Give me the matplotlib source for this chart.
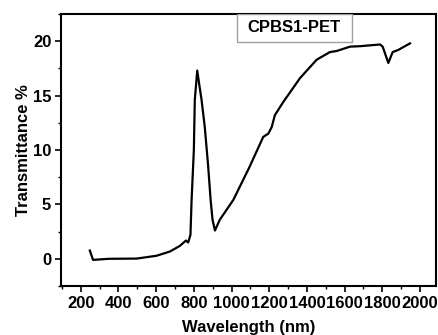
import matplotlib
matplotlib.use("Agg")
import matplotlib.pyplot as plt
from matplotlib.patches import Rectangle
from matplotlib.ticker import MultipleLocator

wavelength = [248, 265, 350, 496, 602, 673, 726, 758, 770, 782, 788, 800, 805, 818,
              828, 841, 858, 876, 889, 899, 912, 938, 1009, 1097, 1168, 1195, 1213,
              1230, 1274, 1363, 1452, 1522, 1558, 1629, 1682, 1788, 1802, 1832, 1855,
              1885, 1947]
transmittance = [0.76, -0.1, 0.0, 0.02, 0.28, 0.67, 1.19, 1.68, 1.5, 2.2, 5.4, 10.0,
                 14.6, 17.3, 16.1, 14.6, 12.1, 8.5, 5.4, 3.6, 2.6, 3.6, 5.4, 8.5, 11.2,
                 11.5, 12.1, 13.2, 14.4, 16.6, 18.3, 19.0, 19.1, 19.5, 19.54, 19.7, 19.5,
                 18.0, 19.0, 19.2, 19.8]
series_label = "CPBS1-PET"
x_ticks = [200, 400, 600, 800, 1000, 1200, 1400, 1600, 1800, 2000]
y_ticks = [0, 5, 10, 15, 20]

plt.rcParams['font.family'] = ['Liberation Sans', 'DejaVu Sans']
plt.rcParams['font.weight'] = 'bold'

fig = plt.figure(figsize=(4.39, 3.35), dpi=100)
ax = fig.add_axes([61/439, (335-286)/335, 375/439, 272/335])

ax.plot(wavelength, transmittance, color='black', lw=1.6)

ax.set_xlim(95, 2085)
ax.set_ylim(-2.5, 22.5)
ax.set_xticks(x_ticks)
ax.set_yticks(y_ticks)
ax.xaxis.set_minor_locator(MultipleLocator(100))
ax.yaxis.set_minor_locator(MultipleLocator(2.5))
ax.tick_params(which='major', direction='out', length=4, width=1.2, labelsize=12, pad=3)
ax.tick_params(which='minor', direction='out', length=2.5, width=1.0)
for lab in ax.get_xticklabels() + ax.get_yticklabels():
    lab.set_fontweight('bold')
for s in ax.spines.values():
    s.set_linewidth(1.5)

ax.set_xlabel('Wavelength (nm)', fontsize=12, fontweight='bold', labelpad=7)
ax.set_ylabel('Transmittance %', fontsize=12, fontweight='bold', labelpad=1)

ax.add_patch(Rectangle((0.469, 0.897), 0.307, 0.103, transform=ax.transAxes,
                       facecolor='white', edgecolor='#a0a0a0', lw=1.0, zorder=3))
ax.text(0.622, 0.949, series_label, transform=ax.transAxes, ha='center', va='center',
        fontsize=12, fontweight='bold', zorder=4)

fig.savefig('out.png', dpi=100)
